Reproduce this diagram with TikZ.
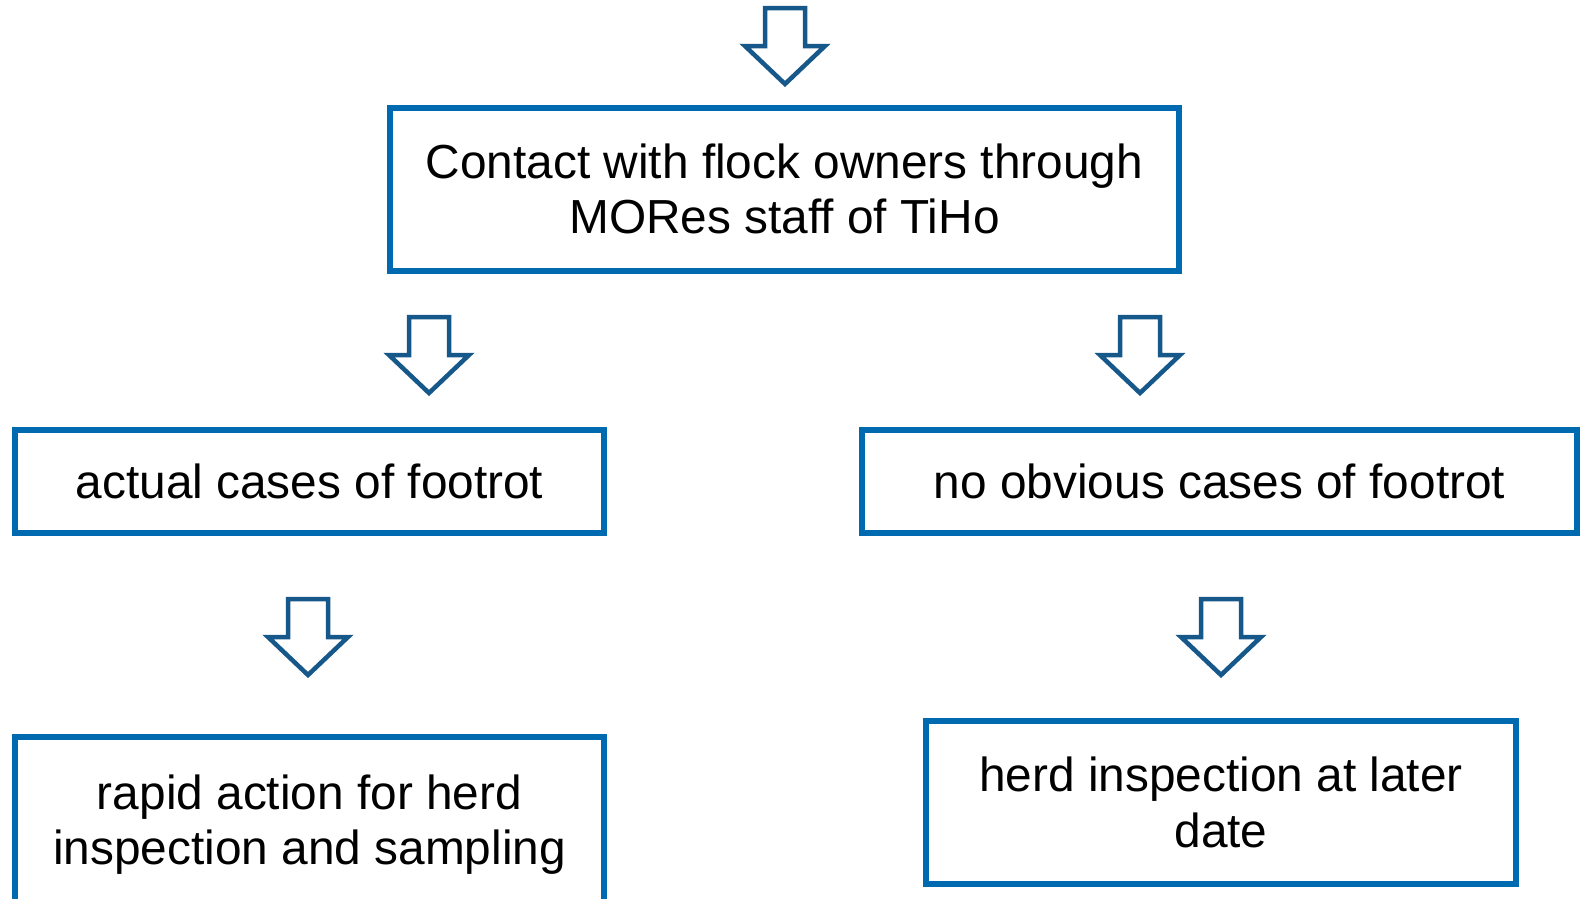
\documentclass[tikz,border=0pt]{standalone}
\usepackage{fontspec}
\setmainfont{Liberation Sans}
\definecolor{boxblue}{RGB}{0,106,176}
\definecolor{arrowblue}{RGB}{22,88,138}
\begin{document}
\begin{tikzpicture}[x=1pt,y=-1pt,
  box/.style={draw=boxblue, line width=6pt, fill=white, inner sep=0pt, align=center,
    font=\fontsize{47.8}{55.5}\selectfont, text=black},
  downarr/.pic={\draw[arrowblue, line width=4.5pt, fill=white, miter limit=10]
    (-20,0) -- (20,0) -- (20,38) -- (40,38) -- (0,76) -- (-40,38) -- (-20,38) -- cycle;}]
\useasboundingbox (0,0) rectangle (1580,898);
\pic (a0) at (785,8) {downarr};
\node[box, minimum width=789pt, minimum height=163pt] (contact) at (784.5,189)
  {Contact with flock owners through\\MORes staff of TiHo};
\pic (a1) at (429,317) {downarr};
\pic (a2) at (1140,317) {downarr};
\node[box, minimum width=589pt, minimum height=103pt] (actual) at (309.5,481)
  {actual cases of footrot};
\node[box, minimum width=715pt, minimum height=103pt] (noobv) at (1219.5,481)
  {no obvious cases of footrot};
\pic (a3) at (308,599) {downarr};
\pic (a4) at (1221,599) {downarr};
\node[box, minimum width=589pt, minimum height=175pt] (rapid) at (309.5,824.5)
  {rapid action for herd\\inspection and sampling};
\node[box, minimum width=590pt, minimum height=163pt] (later) at (1221,802.5)
  {herd inspection at later\\date};
\end{tikzpicture}
\end{document}
